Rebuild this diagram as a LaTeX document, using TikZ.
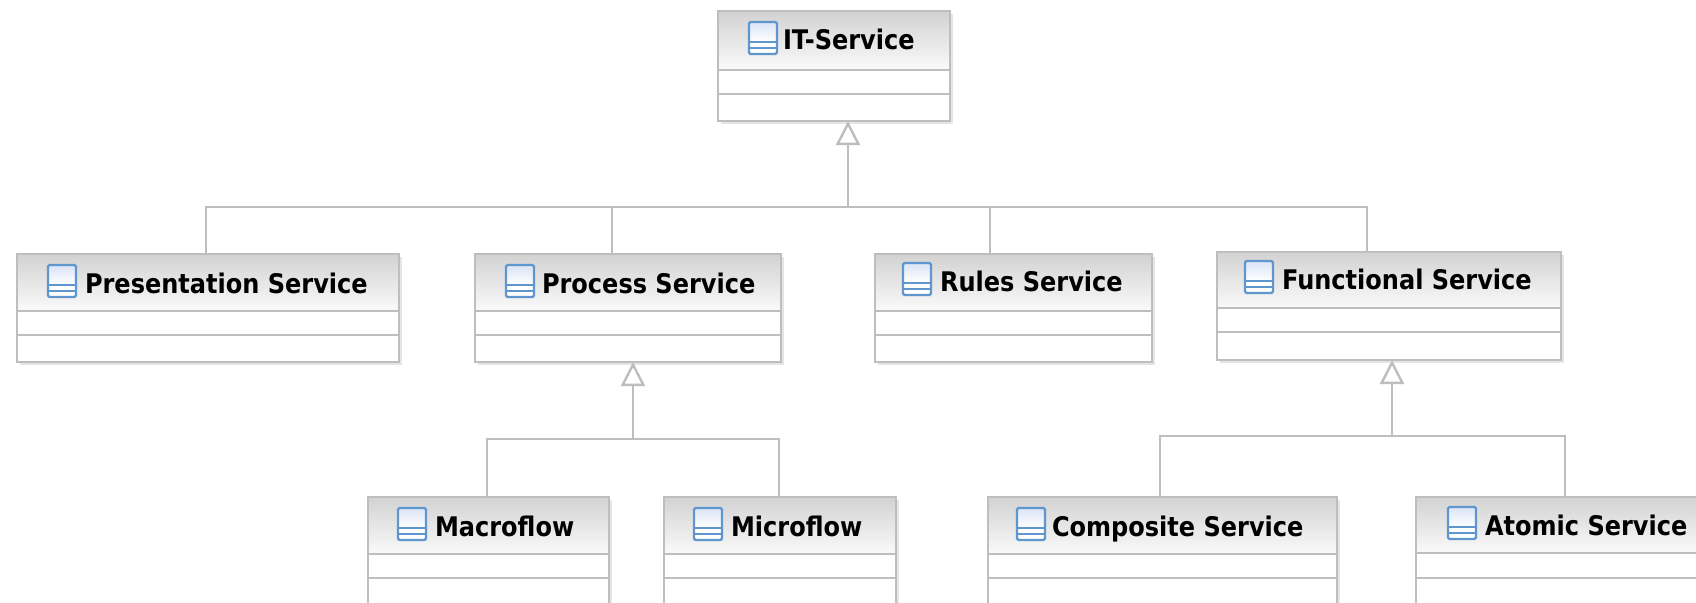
\documentclass[tikz,border=0pt]{standalone}
\usepackage{fontspec}
\setmainfont{DejaVu Sans}[BoldFont={DejaVu Sans Bold}]
\newfontfamily\labelfont{DejaVu Sans Bold}[FakeStretch=0.89]
\usetikzlibrary{arrows.meta,calc}
\definecolor{umlline}{RGB}{190,190,190}
\definecolor{umltop}{RGB}{210,210,210}
\definecolor{umlbot}{RGB}{250,250,250}
\definecolor{iconblue}{RGB}{95,150,205}
\definecolor{iconpale}{RGB}{218,228,246}
\tikzset{
  x=1pt,y=-1pt,
  umlrule/.style={draw=umlline,line width=2.4pt},
  umlhead/.style={top color=umltop,bottom color=umlbot,draw=none},
  umlshadow/.style={fill=black!10,draw=none},
  classbox/.style={draw=umlline,line width=2.4pt,fill=none,inner sep=0pt,outer sep=0pt},
  classlabel/.style={anchor=base west,inner sep=0pt,outer sep=0pt,font=\labelfont\fontsize{27}{27}\selectfont,text=black},
  conn/.style={draw=umlline,line width=2.4pt},
  gener/.style={draw=umlline,line width=2.4pt,-{Triangle[open,length=24pt,width=24pt,fill=white]}},
  iconframe/.style={draw=iconblue,line width=2.4pt,rounded corners=1.5pt},
  iconfill/.style={top color=iconpale,bottom color=white,draw=none},
}
% #1 name, #2 left, #3 top, #4 right, #5 header bottom, #6 middle, #7 bottom
\newcommand{\umlclass}[7]{%
  \fill[umlshadow] (#2+3,#3+3) rectangle (#4+3,#7+3);
  \fill[white] (#2,#3) rectangle (#4,#7);
  \fill[umlhead] (#2,#3) rectangle (#4,#5);
  \draw[umlrule] (#2,#5) -- (#4,#5);
  \draw[umlrule] (#2,#6) -- (#4,#6);
  \node[classbox,minimum width=#4pt-#2pt,minimum height=#7pt-#3pt] (#1) at ({(#2+#4)/2},{(#3+#7)/2}) {};
}
% #1 icon left, #2 baseline, #3 text left, #4 name, #5 text
\newcommand{\umllabel}[5]{%
  \fill[iconfill] (#1,#2-28) rectangle (#1+28,#2-8);
  \fill[white] (#1,#2-8) rectangle (#1+28,#2+4);
  \draw[iconblue,line width=2.4pt] (#1,#2-8) -- (#1+28,#2-8) (#1,#2-2) -- (#1+28,#2-2);
  \draw[iconframe] (#1,#2-28) rectangle (#1+28,#2+4);
  \node[classlabel] (#4) at (#3,#2) {#5};
}
\begin{document}
\begin{tikzpicture}
\useasboundingbox (0,0) rectangle (1696,602);
\clip (0,0) rectangle (1696,602);
\fill[white] (0,0) rectangle (1696,602);

\umlclass{it}{718}{11}{950}{70}{94}{121}
\umlclass{pres}{17}{254}{399}{311}{335}{362}
\umlclass{proc}{475}{254}{781}{311}{335}{362}
\umlclass{rules}{875}{254}{1152}{311}{335}{362}
\umlclass{func}{1217}{252}{1561}{308}{332}{360}
\umlclass{macro}{368}{497}{609}{554}{578}{640}
\umlclass{micro}{664}{497}{896}{554}{578}{640}
\umlclass{comp}{988}{497}{1337}{554}{578}{640}
\umlclass{atom}{1416}{497}{1760}{553}{578}{640}

\umllabel{749}{50}{783}{itl}{IT-Service}
\umllabel{48}{293}{85}{presl}{Presentation Service}
\umllabel{506}{293}{542}{procl}{Process Service}
\umllabel{903}{291}{940}{rulesl}{Rules Service}
\umllabel{1245}{289}{1282}{funcl}{Functional Service}
\umllabel{398}{536}{435}{macrol}{Macroflow}
\umllabel{694}{536}{731}{microl}{Microflow}
\umllabel{1017}{536}{1052}{compl}{Composite Service}
\umllabel{1448}{535}{1485}{atoml}{Atomic Service}

% generalisation to IT-Service
\coordinate (hubit) at (848,207);
\coordinate (busitl) at (206,207);
\coordinate (busitp) at (612,207);
\coordinate (busitr) at (990,207);
\coordinate (busitf) at (1367,207);
\draw[conn] (pres.north -| busitl) -- (busitl) -- (busitf) -- (func.north -| busitf);
\draw[conn] (busitp) -- (proc.north -| busitp);
\draw[conn] (busitr) -- (rules.north -| busitr);
\draw[gener] (hubit) -- (it.south -| hubit);

% generalisation to Process Service
\coordinate (hubproc) at (633,439);
\coordinate (busprocl) at (487,439);
\coordinate (busprocr) at (779,439);
\draw[conn] (macro.north -| busprocl) -- (busprocl) -- (busprocr) -- (micro.north -| busprocr);
\draw[gener] (hubproc) -- (proc.south -| hubproc);

% generalisation to Functional Service
\coordinate (hubfunc) at (1392,436);
\coordinate (busfuncl) at (1160,436);
\coordinate (busfuncr) at (1565,436);
\draw[conn] (comp.north -| busfuncl) -- (busfuncl) -- (busfuncr) -- (atom.north -| busfuncr);
\draw[gener] (hubfunc) -- (func.south -| hubfunc);
\end{tikzpicture}
\end{document}
